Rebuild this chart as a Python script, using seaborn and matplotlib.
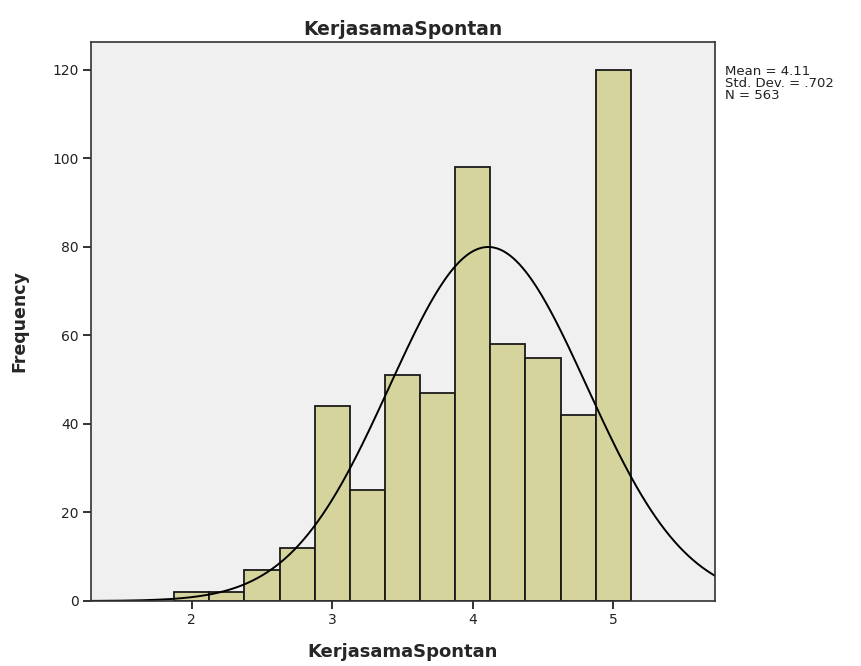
import numpy as np
import pandas as pd
import matplotlib
matplotlib.use("Agg")
import matplotlib.pyplot as plt
import seaborn as sns

# Data
bin_centers = [2.0, 2.25, 2.5, 2.75, 3.0, 3.25, 3.5, 3.75, 4.0, 4.25, 4.5, 4.75, 5.0]
counts = [2, 2, 7, 12, 44, 25, 51, 47, 98, 58, 55, 42, 120]
mean_val = 4.11
sd_val = 0.702
n_val = 563
x_ticks = [2, 3, 4, 5]
y_ticks = [0, 20, 40, 60, 80, 100, 120]

sns.set_theme(style="ticks")
plt.rcParams['font.family'] = ['DejaVu Sans']
plt.rcParams.update({
    "xtick.bottom": True, "ytick.left": True,
    "xtick.major.size": 6, "ytick.major.size": 6,
    "xtick.major.width": 1.3, "ytick.major.width": 1.3,
    "xtick.direction": "out", "ytick.direction": "out",
    "xtick.color": "#222222", "ytick.color": "#222222",
})

df = pd.DataFrame({"KerjasamaSpontan": bin_centers, "count": counts})

fig = plt.figure(figsize=(8.62, 6.66), dpi=100)
ax = fig.add_axes([91/862, 1 - 601/666, (715 - 91)/862, (601 - 42)/666])
ax.set_facecolor("#f0f0f0")

binw = 0.25
sns.histplot(data=df, x="KerjasamaSpontan", weights="count",
             binwidth=binw, binrange=(bin_centers[0] - binw/2, bin_centers[-1] + binw/2),
             color="#d5d49c", edgecolor="#1a1a1a", linewidth=1.3, alpha=1, ax=ax)

xmin, xmax = 1.283, 5.724
xs = np.linspace(xmin, xmax, 400)
pdf = n_val * binw / (sd_val * np.sqrt(2 * np.pi)) * np.exp(-0.5 * ((xs - mean_val) / sd_val) ** 2)
sns.lineplot(x=xs, y=pdf, color="black", linewidth=1.4, ax=ax)

ax.set_xlim(xmin, xmax)
ax.set_ylim(0, 126.3)
ax.set_xticks(x_ticks)
ax.set_yticks(y_ticks)
ax.tick_params(axis="both", which="major", direction="out", length=6, width=1.3,
               color="#222222", labelsize=10, labelcolor="#222222", left=True, bottom=True,
               pad=3)
for s in ax.spines.values():
    s.set_visible(True)
    s.set_color("#333333")
    s.set_linewidth(1.2)

ax.set_xlabel("KerjasamaSpontan", fontsize=13, fontweight="bold", labelpad=11)
ax.set_ylabel("Frequency", fontsize=12.5, fontweight="bold", labelpad=17)
ax.set_title("KerjasamaSpontan", fontsize=13.5, fontweight="bold", pad=5)

fig.text(725/862, 1 - 65/666, f"Mean = {mean_val}\nStd. Dev. = .702\nN = {n_val}",
         fontsize=9.5, va="top", ha="left", linespacing=0.92, color="#222222")

fig.savefig("out.png", dpi=100, facecolor="white")
